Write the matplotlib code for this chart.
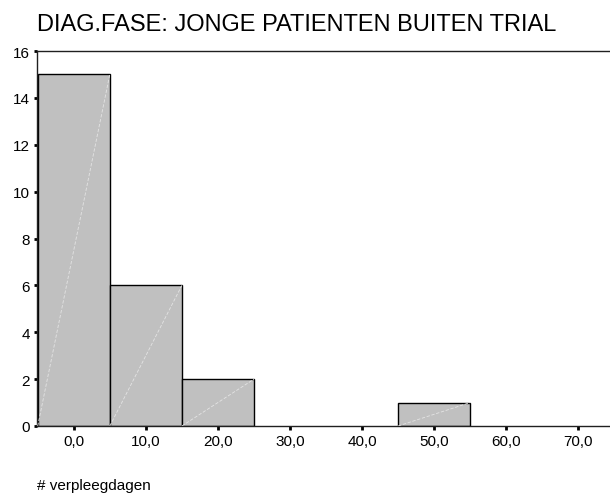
import matplotlib
matplotlib.use('Agg')
import matplotlib.pyplot as plt

# histogram bins (# verpleegdagen) and counts
bin_left = [-5, 5, 15, 45]
bin_width = [10, 10, 10, 10]
counts = [15, 6, 2, 1]
xticks = [0, 10, 20, 30, 40, 50, 60, 70]
xtick_labels = ['0,0', '10,0', '20,0', '30,0', '40,0', '50,0', '60,0', '70,0']
yticks = [0, 2, 4, 6, 8, 10, 12, 14, 16]

plt.rcParams['font.family'] = ['Liberation Sans', 'DejaVu Sans']

fig = plt.figure(figsize=(6.1, 5.02), dpi=100)
ax = fig.add_axes([37 / 610, 1 - 427 / 502, 1 - 37 / 610, (427 - 52) / 502])

ax.bar(bin_left, counts, width=bin_width, align='edge',
       color='#c0c0c0', edgecolor='black', linewidth=1.0, zorder=2)
# faint diagonals inside the bars
for l, w, c in zip(bin_left, bin_width, counts):
    ax.plot([l, l + w], [0, c], color='#e4e4e4', linewidth=0.6,
            linestyle=(0, (4, 2)), zorder=3)

ax.set_xlim(-5.1, 74.4)
ax.set_ylim(0, 16)
ax.set_xticks(xticks)
ax.set_xticklabels(xtick_labels)
ax.set_yticks(yticks)
ax.tick_params(axis='both', labelsize=11, length=3, width=2, color='black')
ax.tick_params(axis='x', pad=3)
ax.tick_params(axis='y', pad=3, length=2)

ax.spines['right'].set_visible(False)
for s in ['top', 'left', 'bottom']:
    ax.spines[s].set_linewidth(1.0)
    ax.spines[s].set_color('#202020')

fig.text(37 / 610, 1 - 31 / 502, 'DIAG.FASE: JONGE PATIENTEN BUITEN TRIAL',
         fontsize=17, ha='left', va='baseline')
fig.text(37 / 610, 1 - 490 / 502, '# verpleegdagen',
         fontsize=11, ha='left', va='baseline')

fig.savefig('out.png', dpi=100)
